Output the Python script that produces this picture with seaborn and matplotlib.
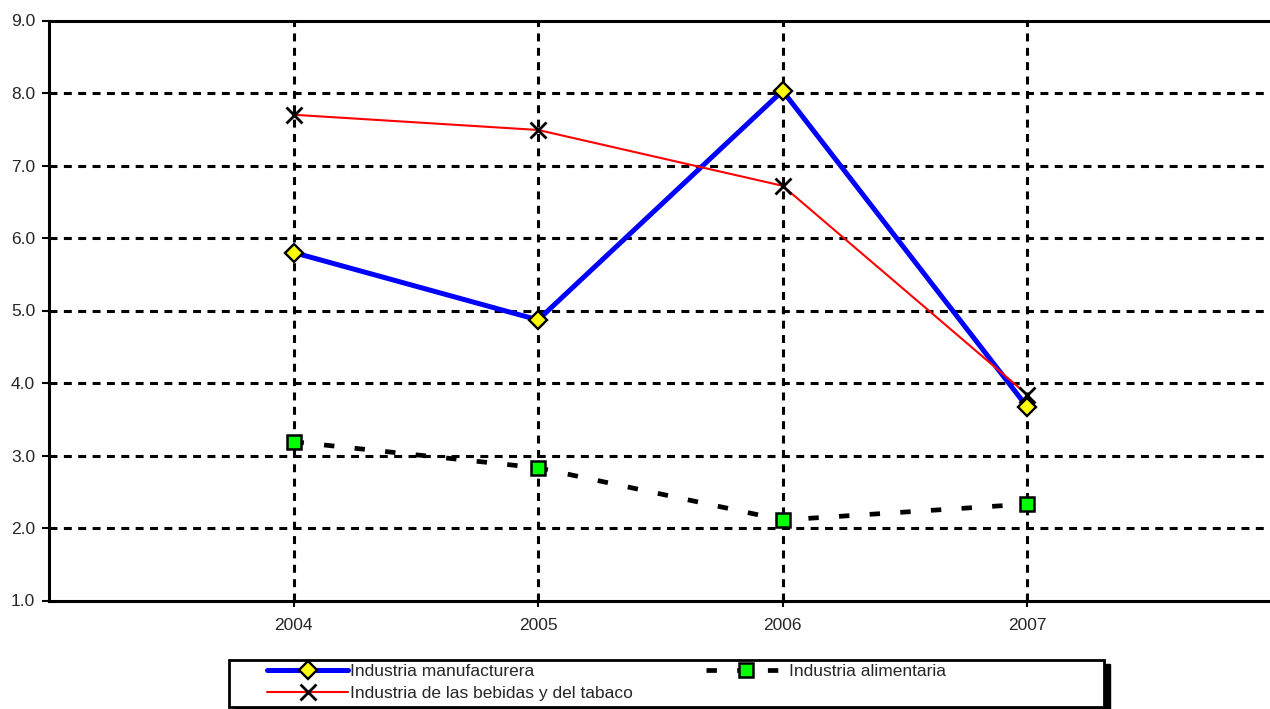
import numpy as np
import pandas as pd
import matplotlib
matplotlib.use("Agg")
import matplotlib.pyplot as plt
import seaborn as sns
from matplotlib.patches import Rectangle

# ---- data ----
years = [2004, 2005, 2006, 2007]
manufacturera = [5.80, 4.87, 8.03, 3.67]
bebidas_tabaco = [7.70, 7.49, 6.72, 3.84]
alimentaria = [3.19, 2.83, 2.11, 2.33]

labels = ["Industria manufacturera",
          "Industria de las bebidas y del tabaco",
          "Industria alimentaria"]
y_ticks = [1.0, 2.0, 3.0, 4.0, 5.0, 6.0, 7.0, 8.0, 9.0]

sns.set_style("white")
plt.rcParams['font.family'] = ['Liberation Sans', 'DejaVu Sans']
plt.rcParams['font.size'] = 12.5

W, H = 1270, 709
fig = plt.figure(figsize=(W / 100, H / 100), dpi=100)
ax = fig.add_axes([49 / W, 1 - 600.5 / H, 1222.7 / W, 580 / H])

# series
sns.lineplot(x=years, y=manufacturera, ax=ax, color="#0000ff", lw=3.6,
             marker="D", markersize=9, markerfacecolor="#ffff00",
             markeredgecolor="black", markeredgewidth=1.7, label=labels[0])
sns.lineplot(x=years, y=bebidas_tabaco, ax=ax, color="#ff0000", lw=1.5,
             marker="x", markersize=12, markeredgecolor="black",
             markeredgewidth=2.0, label=labels[1])
sns.lineplot(x=years, y=alimentaria, ax=ax, color="black", lw=3.4,
             linestyle=(0, (2.2, 4.3)),
             marker="s", markersize=10, markerfacecolor="#00ff00",
             markeredgecolor="black", markeredgewidth=1.8, label=labels[2])

# axes
ax.set_xlim(2003, 2008)
ax.set_ylim(1, 9)
ax.set_xticks(years)
ax.set_xticklabels([str(y) for y in years])
ax.set_yticks(y_ticks)
ax.set_yticklabels([f"{v:.1f}" for v in y_ticks])
ax.set_xlabel("")
ax.set_ylabel("")

grid_kw = dict(color="black", lw=2.2, linestyle=(0, (2.6, 2.1)))
for v in y_ticks[1:-1]:
    ax.axhline(v, zorder=0.5, **grid_kw)
for yr in years:
    ax.axvline(yr, zorder=0.5, **grid_kw)

for side in ["left", "bottom", "top"]:
    ax.spines[side].set_visible(True)
    ax.spines[side].set_color("black")
    ax.spines[side].set_linewidth(2.2)
ax.spines["right"].set_visible(False)
ax.spines["top"].set_clip_on(False)

ax.tick_params(axis="y", direction="out", length=5, width=1.5, color="black",
               pad=5, labelsize=12.5, left=True)
ax.tick_params(axis="x", direction="inout", length=9, width=1.5, color="black",
               pad=8, labelsize=12.5, bottom=True)

# legend box with shadow, drawn by hand
ax.get_legend().remove()
handles, labs = ax.get_legend_handles_labels()
fig.add_artist(Rectangle((235 / W, 1 - 713 / H), 875 / W, 49 / H,
                         transform=fig.transFigure, facecolor="black",
                         edgecolor="black", zorder=5))
fig.add_artist(Rectangle((229 / W, 1 - 707 / H), 875 / W, 47 / H,
                         transform=fig.transFigure, facecolor="white",
                         edgecolor="black", lw=2.0, zorder=6))
leg = fig.legend(handles, labs, ncol=2, loc="center left",
                 bbox_to_anchor=(267 / W, 1 - 682.5 / H),
                 frameon=False, borderpad=0, borderaxespad=0,
                 handlelength=4.67, handletextpad=0.12, columnspacing=4.2,
                 labelspacing=0.35, fontsize=12.5)
leg.set_zorder(7)

fig.savefig("out.png", dpi=100)
